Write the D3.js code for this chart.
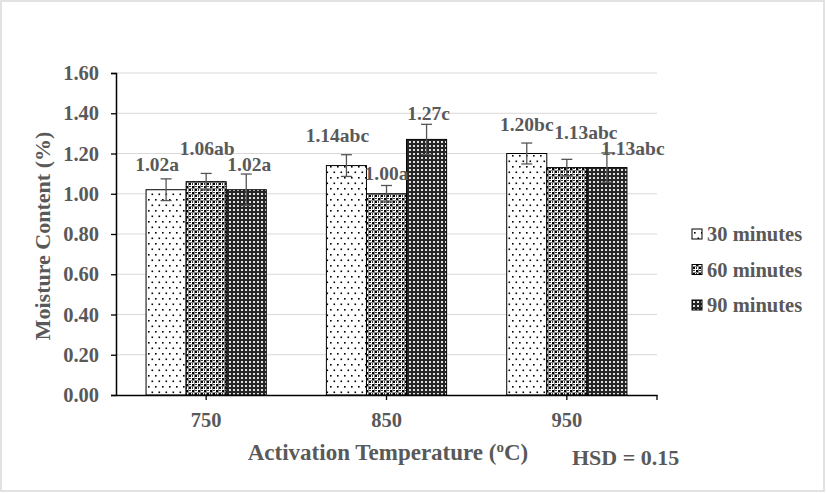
<!DOCTYPE html>
<html>
<head>
<meta charset="utf-8">
<script src="https://cdn.jsdelivr.net/npm/d3@7"></script>
<style>
  html, body { margin: 0; padding: 0; background: #fff; }
  svg { display: block; }
  text { font-family: "Liberation Serif", "Times New Roman", serif; font-weight: bold; fill: #595959; }
</style>
</head>
<body>
<svg id="chart" width="826" height="493"></svg>
<script>
// ---------------- data ----------------
const categories = ["750", "850", "950"];
const seriesNames = ["30 minutes", "60 minutes", "90 minutes"];
const values30 = [1.02, 1.14, 1.20];
const values60 = [1.06, 1.00, 1.13];
const values90 = [1.02, 1.27, 1.13];
const errors30 = [0.054, 0.054, 0.052];
const errors60 = [0.041, 0.041, 0.041];
const errors90 = [0.078, 0.075, 0.073];
const letters30 = ["a", "abc", "bc"];
const letters60 = ["ab", "a", "abc"];
const letters90 = ["a", "c", "abc"];
const yTickValues = [0, 0.2, 0.4, 0.6, 0.8, 1.0, 1.2, 1.4, 1.6];
const yTitle = "Moisture Content (%)";
const hsdText = "HSD = 0.15";

// label nudges (px) relative to bar centre / bar top — layout only
const labelNudge30 = [[-9, -19], [-9, -24], [0, -23]];
const labelNudge60 = [[1, -27], [0, -14], [19, -28.5]];
const labelNudge90 = [[3, -19], [2, -19], [26, -13]];

const seriesValues = [values30, values60, values90];
const seriesErrors = [errors30, errors60, errors90];
const seriesLetters = [letters30, letters60, letters90];
const seriesNudges = [labelNudge30, labelNudge60, labelNudge90];

// ---------------- layout ----------------
const svg = d3.select("#chart");
const W = 826, H = 493;
const plot = { left: 116, right: 657, top: 73, bottom: 395 };
const tickFont = 20.5, labelFont = 19.5, legendFont = 20.5, titleFont = 22;

// chart border
svg.append("rect").attr("x", 1).attr("y", 1).attr("width", W - 3).attr("height", H - 3)
  .attr("fill", "#fff").attr("stroke", "#d9d9d9").attr("stroke-width", 1.5);

// patterns
const defs = svg.append("defs");
const p1 = defs.append("pattern").attr("id", "pat0").attr("patternUnits", "userSpaceOnUse")
  .attr("width", 7).attr("height", 11);
p1.append("rect").attr("width", 7).attr("height", 11).attr("fill", "#fff");
p1.append("rect").attr("x", 1).attr("y", 1).attr("width", 1.6).attr("height", 1.6).attr("fill", "#000");
p1.append("rect").attr("x", 4.5).attr("y", 6.5).attr("width", 1.6).attr("height", 1.6).attr("fill", "#000");

const p2 = defs.append("pattern").attr("id", "pat1").attr("patternUnits", "userSpaceOnUse")
  .attr("width", 6).attr("height", 6);
p2.append("rect").attr("width", 6).attr("height", 6).attr("fill", "#fff");
p2.append("rect").attr("x", 0).attr("y", 0).attr("width", 2).attr("height", 2).attr("fill", "#000");
p2.append("rect").attr("x", 3).attr("y", 3).attr("width", 2).attr("height", 2).attr("fill", "#000");
p2.append("rect").attr("x", 2).attr("y", 0).attr("width", 1).attr("height", 6).attr("fill", "#8a8a8a");
p2.append("rect").attr("x", 0).attr("y", 2).attr("width", 6).attr("height", 1).attr("fill", "#8a8a8a");
p2.append("rect").attr("x", 3).attr("y", 0).attr("width", 2).attr("height", 1).attr("fill", "#333");
p2.append("rect").attr("x", 0).attr("y", 3).attr("width", 1).attr("height", 2).attr("fill", "#333");

const p3 = defs.append("pattern").attr("id", "pat2").attr("patternUnits", "userSpaceOnUse")
  .attr("width", 4).attr("height", 4);
p3.append("rect").attr("width", 4).attr("height", 4).attr("fill", "#262626");
p3.append("rect").attr("x", 1).attr("y", 1).attr("width", 2).attr("height", 2).attr("fill", "#e0e0e0");

// scales
const x0 = d3.scaleBand().domain(categories).range([plot.left, plot.right])
  .paddingInner(1 / 3).paddingOuter(1 / 6);
const x1 = d3.scaleBand().domain(d3.range(seriesNames.length)).range([0, x0.bandwidth()]).padding(0);
const y = d3.scaleLinear().domain([0, 1.6]).range([plot.bottom, plot.top]);

// gridlines
svg.append("g").selectAll("line").data(yTickValues.filter(d => d > 0)).join("line")
  .attr("x1", plot.left).attr("x2", plot.right)
  .attr("y1", d => y(d)).attr("y2", d => y(d))
  .attr("stroke", "#d9d9d9").attr("stroke-width", 1);

// bars
const bars = [];
seriesValues.forEach((vals, s) => {
  vals.forEach((v, i) => bars.push({ s, i, v, e: seriesErrors[s][i], lab: v.toFixed(2) + seriesLetters[s][i], nudge: seriesNudges[s][i] }));
});
const bx = d => x0(categories[d.i]) + x1(d.s);
svg.append("g").selectAll("rect").data(bars).join("rect")
  .attr("x", bx).attr("width", x1.bandwidth())
  .attr("y", d => y(d.v)).attr("height", d => y(0) - y(d.v))
  .attr("fill", d => `url(#pat${d.s})`).attr("stroke", "#000").attr("stroke-width", 1);

// error bars
const eg = svg.append("g").attr("stroke", "#555").attr("stroke-width", 1.3);
bars.forEach(d => {
  const cx = bx(d) + x1.bandwidth() / 2;
  eg.append("line").attr("x1", cx).attr("x2", cx).attr("y1", y(d.v + d.e)).attr("y2", y(d.v - d.e));
  eg.append("line").attr("x1", cx - 5.5).attr("x2", cx + 5.5).attr("y1", y(d.v + d.e)).attr("y2", y(d.v + d.e));
  eg.append("line").attr("x1", cx - 5.5).attr("x2", cx + 5.5).attr("y1", y(d.v - d.e)).attr("y2", y(d.v - d.e));
});

// data labels
svg.append("g").selectAll("text").data(bars).join("text")
  .attr("x", d => bx(d) + x1.bandwidth() / 2 + d.nudge[0])
  .attr("y", d => y(d.v) + d.nudge[1])
  .attr("text-anchor", "middle").attr("font-size", labelFont)
  .text(d => d.lab);

// y axis
const yAxis = d3.axisLeft(y).tickValues(yTickValues).tickFormat(d3.format(".2f")).tickSize(5).tickSizeOuter(5).tickPadding(12);
const ya = svg.append("g").attr("transform", `translate(${plot.left},0)`).call(yAxis);
ya.select(".domain").attr("stroke", "#000").attr("stroke-width", 1.5);
ya.selectAll(".tick line").attr("stroke", "#000").attr("stroke-width", 1.3);
ya.selectAll(".tick text").attr("font-size", tickFont).attr("font-family", null).attr("fill", "#595959");

// x axis
const xAxis = d3.axisBottom(x0).tickSize(5).tickSizeOuter(0).tickPadding(12);
const xa = svg.append("g").attr("transform", `translate(0,${plot.bottom})`).call(xAxis);
xa.select(".domain").attr("stroke", "#000").attr("stroke-width", 1.5);
xa.selectAll(".tick line").attr("stroke", "#000").attr("stroke-width", 1.3);
xa.selectAll(".tick text").attr("font-size", tickFont).attr("font-family", null).attr("fill", "#595959");
xa.append("line").attr("x1", plot.right).attr("x2", plot.right).attr("y1", 0).attr("y2", 5)
  .attr("stroke", "#000").attr("stroke-width", 1.3);

// axis titles
svg.append("text").attr("transform", `translate(50,236) rotate(-90)`)
  .attr("text-anchor", "middle").attr("font-size", titleFont).text(yTitle);
const xt = svg.append("text").attr("x", 388).attr("y", 460).attr("text-anchor", "middle").attr("font-size", 23);
xt.append("tspan").text("Activation Temperature (");
xt.append("tspan").attr("font-size", 15).attr("dy", -8).text("o");
xt.append("tspan").attr("dy", 8).text("C)");
svg.append("text").attr("x", 572).attr("y", 465).attr("font-size", titleFont).text(hsdText);

// legend
const lg = svg.append("g");
seriesNames.forEach((name, s) => {
  const cy = 234 + s * 35.5;
  lg.append("rect").attr("x", 692).attr("y", cy - 5).attr("width", 10).attr("height", 10)
    .attr("fill", `url(#pat${s})`).attr("stroke", "#000").attr("stroke-width", 1);
  lg.append("text").attr("x", 707).attr("y", cy + 7).attr("font-size", legendFont).text(name);
});
</script>
</body>
</html>
